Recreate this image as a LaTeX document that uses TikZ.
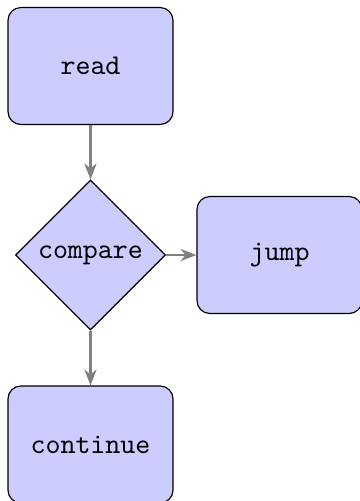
\documentclass[tikz,border=0pt]{standalone}
\usetikzlibrary{shapes.geometric,arrows.meta}
\begin{document}
\begin{tikzpicture}[x=0.35pt,y=-0.35pt,
  stepbox/.style={draw=black, line width=0.4pt, fill=blue!20, rounded corners=4.5pt,
    minimum width=57.75pt, minimum height=40.95pt, font=\ttfamily},
  decision/.style={draw=black, line width=0.4pt, fill=blue!20, diamond, aspect=1,
    inner sep=0pt, minimum size=52.5pt, font=\ttfamily},
  flow/.style={draw=gray, line width=1pt, -{Stealth[length=5.5pt,width=4.2pt,inset=1.6pt]}}]
  \useasboundingbox (0,0) rectangle (360,501);
  \node[stepbox] (read) at (90.5,66) {read};
  \node[decision] (compare) at (90.5,255) {compare};
  \node[stepbox] (jump) at (279.5,255) {jump};
  \node[stepbox] (continue) at (90.5,444.5) {continue};
  \draw[flow] (read) -- (compare);
  \draw[flow] (compare) -- (jump);
  \draw[flow] (compare) -- (continue);
\end{tikzpicture}
\end{document}
